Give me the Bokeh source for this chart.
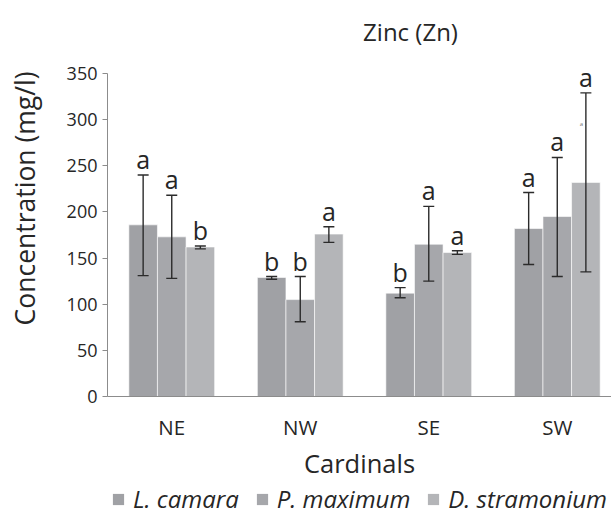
import numpy as np
from bokeh.plotting import figure
from bokeh.layouts import column
from bokeh.models import (ColumnDataSource, Range1d, FixedTicker, Whisker, TeeHead,
                          Label, Legend, LegendItem)
from bokeh.core.properties import value
from bokeh.embed import file_html
from bokeh.resources import INLINE

# ---- data ----
categories = ["NE", "NW", "SE", "SW"]
series_names = ["L. camara", "P. maximum", "D. stramonium"]
title_text = "Zinc (Zn)"

l_camara = [186, 129, 112, 182]
l_camara_low = [131, 127, 107, 143]
l_camara_high = [240, 130, 118, 221]
l_camara_letters = ["a", "b", "b", "a"]

p_maximum = [173, 105, 165, 195]
p_maximum_low = [128, 81, 125, 130]
p_maximum_high = [218, 130, 206, 259]
p_maximum_letters = ["a", "b", "a", "a"]

d_stramonium = [162, 176, 156, 232]
d_stramonium_low = [160, 167, 154, 135]
d_stramonium_high = [163, 184, 158, 329]
d_stramonium_letters = ["b", "a", "a", "a"]

y_ticks = [0, 50, 100, 150, 200, 250, 300, 350]

# ---- style ----
FONT = "Open Sans"
TXT = "#262626"
colors = ["#a0a1a5", "#a6a7ab", "#b4b5b8"]
bar_w = 0.2226
offsets = [-bar_w, 0.0, bar_w]

# frame spans from the top of the page down to the x axis; axis line limited to 0..350
p = figure(width=611, height=482, output_backend="svg", toolbar_location=None,
           x_range=Range1d(-0.5, 3.422), y_range=Range1d(0, 429.1),
           min_border_left=107, min_border_right=0, min_border_top=0,
           min_border_bottom=86)
p.title = None
p.outline_line_color = None
p.xgrid.grid_line_color = None
p.ygrid.grid_line_color = None
p.background_fill_color = "white"
p.border_fill_color = "white"

idx = np.arange(len(categories))
series = [
    (l_camara, l_camara_low, l_camara_high, l_camara_letters),
    (p_maximum, p_maximum_low, p_maximum_high, p_maximum_letters),
    (d_stramonium, d_stramonium_low, d_stramonium_high, d_stramonium_letters),
]

for i, (vals, lo, hi, let) in enumerate(series):
    src = ColumnDataSource(dict(x=idx + offsets[i], top=vals, lower=lo, upper=hi, letter=let))
    p.vbar(x="x", top="top", width=bar_w, source=src, fill_color=colors[i],
           line_color="white", line_width=0.6)
    w = Whisker(base="x", lower="lower", upper="upper", source=src, level="overlay",
                line_color="#2b2b2b", line_width=1.4,
                upper_head=TeeHead(size=11, line_color="#2b2b2b", line_width=1.4),
                lower_head=TeeHead(size=11, line_color="#2b2b2b", line_width=1.4))
    p.add_layout(w)
    p.text(x="x", y="upper", text="letter", source=src, text_align="center",
           text_baseline="bottom", y_offset=1, text_font=value(FONT),
           text_font_size="25px", text_color=TXT)

# tiny stray mark seen above the SW D. stramonium bar
p.add_layout(Label(x=idx[3] + offsets[2] - 0.035, y=295, text="a", text_font=FONT,
                   text_font_size="6px", text_color="#777777", text_align="center",
                   text_baseline="middle"))

# chart title (inside the extended frame, above the value range)
p.text(x=[1.858], y=[395.5], text=[title_text], text_align="center",
       text_baseline="middle", text_font=value(FONT), text_font_size="24px",
       text_color=TXT)

# axes
ya = p.yaxis[0]
ya.ticker = FixedTicker(ticks=y_ticks)
ya.bounds = (0, 350)
ya.minor_tick_line_color = None
ya.major_tick_out = 5
ya.major_tick_in = 0
ya.axis_line_color = "#8c8c8c"
ya.major_tick_line_color = "#8c8c8c"
ya.major_label_text_font = FONT
ya.major_label_text_font_size = "18px"
ya.major_label_text_color = TXT
ya.major_label_standoff = 5
ya.axis_label = "Concentration (mg/l)"
ya.axis_label_text_font = FONT
ya.axis_label_text_font_size = "26.5px"
ya.axis_label_text_font_style = "normal"
ya.axis_label_text_color = TXT
ya.axis_label_standoff = 21

xa = p.xaxis[0]
xa.ticker = FixedTicker(ticks=list(idx))
xa.major_label_overrides = {int(k): c for k, c in zip(idx, categories)}
xa.minor_tick_line_color = None
xa.major_tick_out = 0
xa.major_tick_in = 0
xa.axis_line_color = "#8c8c8c"
xa.major_label_text_font = FONT
xa.major_label_text_font_size = "20.5px"
xa.major_label_text_color = TXT
xa.major_label_standoff = 16
xa.axis_label = "Cardinals"
xa.axis_label_text_font = FONT
xa.axis_label_text_font_size = "25.5px"
xa.axis_label_text_font_style = "normal"
xa.axis_label_text_color = TXT
xa.axis_label_standoff = 2

# ---- legend strip ----
lg = figure(width=611, height=33, output_backend="svg", toolbar_location=None,
            x_range=Range1d(0, 1), y_range=Range1d(0, 1),
            min_border_left=107, min_border_right=0, min_border_top=0,
            min_border_bottom=0, x_axis_location=None, y_axis_location=None)
lg.outline_line_color = None
lg.xgrid.grid_line_color = None
lg.ygrid.grid_line_color = None
lg.border_fill_color = "white"
lg.background_fill_color = "white"
items = []
for i, name in enumerate(series_names):
    # legend swatch renderers: zero-height bars that draw nothing themselves
    r = lg.vbar(x=[0.5], top=[0], bottom=[0], width=0.01, fill_color=colors[i],
                line_color=None)
    items.append(LegendItem(label=name, renderers=[r]))
legend = Legend(items=items, orientation="horizontal", location=(4, 0),
                glyph_width=14, glyph_height=14, label_standoff=8, spacing=16,
                padding=0, margin=0, border_line_color=None,
                background_fill_alpha=0,
                label_text_font=FONT, label_text_font_size="24px",
                label_text_font_style="italic", label_text_color=TXT)
lg.add_layout(legend)

open("out.html", "w").write(file_html(column(p, lg, spacing=0), INLINE))
